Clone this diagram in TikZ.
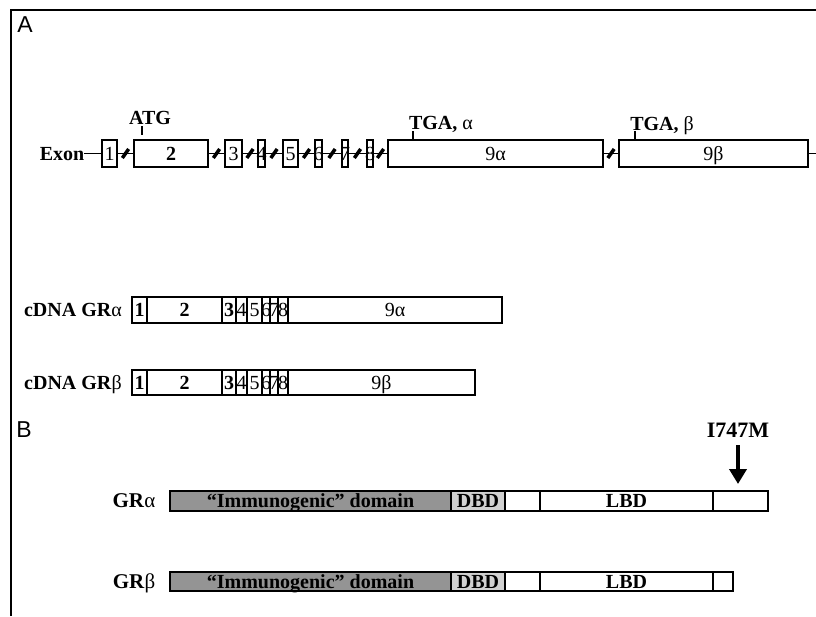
\documentclass[tikz,border=0pt]{standalone}
\usepackage{fontspec}
\setmainfont{Liberation Serif}
\newfontfamily\panelfont{Liberation Sans}
\usetikzlibrary{arrows.meta}
\colorlet{immgray}{black!42}
\colorlet{dbdgray}{black!18}
\newcommand{\ovl}[1]{\makebox[0pt]{#1}}

\begin{document}
\begin{tikzpicture}[x=1pt, y=-1pt, >={Triangle[width=17pt,length=15pt]},
  txt/.style={font=\fontsize{20}{20}\selectfont, inner sep=0pt, text depth=0pt},
  btxt/.style={font=\bfseries\fontsize{20}{20}\selectfont, inner sep=0pt, text depth=0pt},
  bx/.style={draw, line width=2.2pt, inner sep=0pt, fill=white, text depth=0pt, font=\fontsize{20}{20}\selectfont},
  brk/.style={fill=black, inner sep=0pt, minimum width=3.5pt, minimum height=11pt, rotate=-35},
  intron/.style={line width=1.8pt},
  panel/.style={font=\panelfont\fontsize{23}{23}\selectfont, inner sep=0pt}]
  \useasboundingbox (0,0) rectangle (816,616);
  % frame
  \draw[line width=2.5pt] (11,616) -- (11,10) -- (816,10);
  \node[panel] (pa) at (25,25) {A};
  \node[panel] (pb) at (24,430) {B};

  % gene with exons
  \node[btxt] (exon) at (62,153.5) {Exon};
  \foreach \nm/\cx/\w/\lab in {e1/109.5/15/1, e2/171/74/\textbf{2}, e3/233.5/17/3, e4/261.5/7/4,
      e5/290.5/15/5, e6/318.5/7/6, e7/345/6/7, e8/370/6/8, e9a/495.5/215/9α, e9b/713.5/189/9β}
    \node[bx, minimum width=\w, minimum height=27] (\nm) at (\cx,153.5) {\ovl{\lab}};
  \draw[intron] (exon) -- (e1);
  \foreach \a/\b in {e1/e2, e2/e3, e3/e4, e4/e5, e5/e6, e6/e7, e7/e8, e8/e9a, e9a/e9b}
    \draw[intron] (\a) -- node[brk] {} (\b);
  \coordinate (gend) at (816,153.5);
  \draw[intron] (e9b) -- (gend);
  % start and stop codons
  \node[btxt] (atg) at (150,118) {ATG};
  \coordinate (atgt) at (142,126);
  \coordinate (atgb) at (142,135);
  \draw[line width=1.4pt] (atgt) -- (atgb);
  \node[txt] (tgaa) at (441,123) {\textbf{TGA,} α};
  \coordinate (tgaat) at (413,131);
  \draw[line width=1.4pt] (tgaat) -- (tgaat |- e9a.north);
  \node[txt] (tgab) at (662,123) {\textbf{TGA,} β};
  \coordinate (tgabt) at (635,131);
  \draw[line width=1.4pt] (tgabt) -- (tgabt |- e9b.north);

  % cDNA
  \foreach \row/\yy/\h/\gr/\w/\cx in {a/310/26/α/214/395, b/382.5/25/β/187/381.5} {
    \node[txt] (lab\row) at (73,\yy) {\textbf{cDNA GR}\gr};
    \foreach \nm/\x/\ww/\lab in {1/139.5/15/\textbf{1}, 2/184.5/75/\textbf{2}, 3/229/14/\textbf{3},
        4/241.5/11/4, 5/254.5/15/5, 6/266/8/6, 7/274/8/7, 8/283/10/8}
      \node[bx, minimum width=\ww, minimum height=\h] (c\row\nm) at (\x,\yy) {\ovl{\lab}};
    \node[bx, minimum width=\w, minimum height=\h] (c\row9) at (\cx,\yy) {9\gr};
  }

  % protein domains
  \foreach \row/\yy/\h/\gr/\w/\cx in {a/501/20/α/55/740.5, b/581.5/19/β/20/723} {
    \node[txt, font=\fontsize{21}{21}\selectfont] (gr\row) at (134,\yy) {\textbf{GR}\gr};
    \node[bx, fill=immgray, minimum width=281, minimum height=\h, font=\bfseries\fontsize{20}{20}\selectfont]
      (imm\row) at (310.5,\yy) {“Immunogenic” domain};
    \node[bx, fill=dbdgray, minimum width=54, minimum height=\h, font=\bfseries\fontsize{20}{20}\selectfont]
      (dbd\row) at (478,\yy) {DBD};
    \node[bx, minimum width=35, minimum height=\h] (gap\row) at (522.5,\yy) {};
    \node[bx, minimum width=173, minimum height=\h, font=\bfseries\fontsize{20}{20}\selectfont]
      (lbd\row) at (626.5,\yy) {LBD};
    \node[bx, minimum width=\w, minimum height=\h] (tail\row) at (\cx,\yy) {};
  }
  % mutation
  \node[btxt, font=\bfseries\fontsize{22}{22}\selectfont] (mut) at (738,430) {I747M};
  \coordinate (muttip) at (738,484);
  \draw[->, line width=4.5pt, shorten <=8pt] (mut) -- (muttip);
\end{tikzpicture}
\end{document}
